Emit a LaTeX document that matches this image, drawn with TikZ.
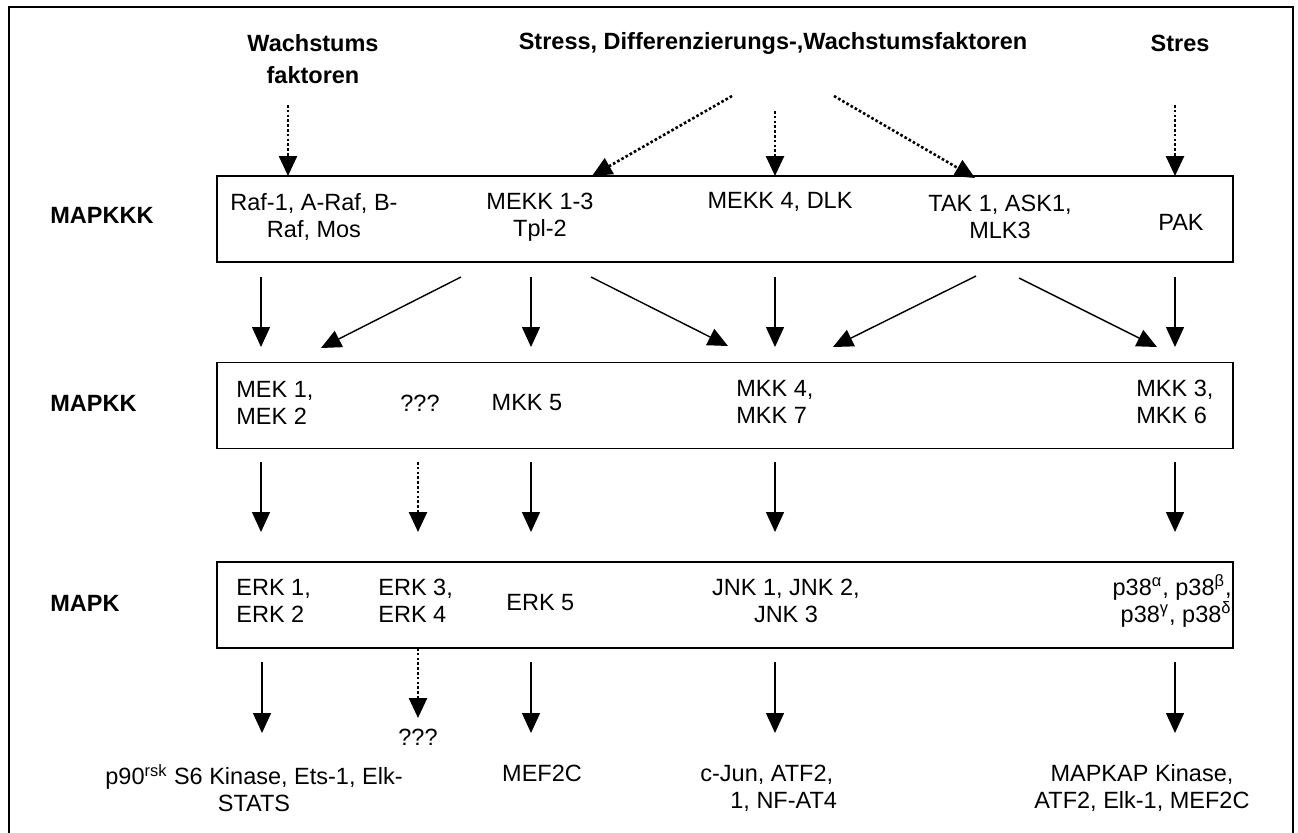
\documentclass[tikz,border=0pt]{standalone}
\usepackage{fontspec}
\setmainfont{Liberation Sans}
\usetikzlibrary{arrows.meta, positioning}

\begin{document}
\begin{tikzpicture}[x=0.5pt, y=-0.5pt, >={Triangle[width=9pt,length=10pt]}]
      % Styles
      \tikzset{
        stage/.style={draw, line width=0.75pt, minimum width=508pt, minimum height=43pt, inner sep=0pt},
        item/.style={font=\fontsize{11.75pt}{13.5pt}\selectfont, align=center, inner sep=0pt},
        level/.style={font=\fontsize{11.75pt}{13.5pt}\selectfont\bfseries, anchor=west, inner sep=0pt},
        source/.style={font=\fontsize{11.75pt}{16pt}\selectfont\bfseries, align=center, inner sep=0pt},
        act/.style={->, line width=0.7pt},
        maybe/.style={->, line width=1.3pt, dash pattern=on 1.3pt off 1.1pt},
      }
      \useasboundingbox (0,0) rectangle (1298,832);
      % Frame
      \draw[line width=1pt] (9,840) -- (9,7) -- (1293,7) -- (1293,840);
      % Stimuli
      \node (wachs) [source] at (313,59) {Wachstums\\faktoren};
      \node (stress) [source] at (773,43) {Stress, Differenzierungs-,Wachstumsfaktoren};
      \node (stres) [source] at (1180,43) {Stres};
      % Levels
      \node (lkkk) [level] at (50,215) {MAPKKK};
      \node (lkk) [level] at (50,403) {MAPKK};
      \node (lk) [level] at (50,603) {MAPK};
      % Boxes
      \node (kkk) [stage] at (725,219) {};
      \node (kk) [stage] at (725,405.5) {};
      \node (k) [stage] at (725,605) {};
      % MAPKKK
      \node (raf) [item] at (314,217) {Raf-1, A-Raf, B-\\Raf, Mos};
      \node (mekk) [item] at (540,217) {MEKK 1-3\\Tpl-2};
      \node (mekkfour) [item] at (780,202) {MEKK 4, DLK};
      \node (tak) [item] at (1000,217) {TAK 1, ASK1,\\MLK3};
      \node (pak) [item] at (1181,222) {PAK};
      % MAPKK
      \node (mek) [item, anchor=west, align=left] at (236,403) {MEK 1,\\MEK 2};
      \node (unkk) [item] at (420,403) {???};
      \node (mkkfive) [item] at (527,403) {MKK 5};
      \node (mkkfour) [item, anchor=west, align=left] at (736,402) {MKK 4,\\MKK 7};
      \node (mkkthree) [item, anchor=west, align=left] at (1136,402) {MKK 3,\\MKK 6};
      % MAPK
      \node (erk) [item, anchor=west, align=left] at (236,601) {ERK 1,\\ERK 2};
      \node (erkthree) [item, anchor=west, align=left] at (378,601) {ERK 3,\\ERK 4};
      \node (erkfive) [item, anchor=west] at (506,603) {ERK 5};
      \node (jnk) [item] at (786,601) {JNK 1, JNK 2,\\JNK 3};
      \node (pthree) [item, anchor=east, align=right] at (1232,601)
        {p38\textsuperscript{α}, p38\textsuperscript{β},\\p38\textsuperscript{γ}, p38\textsuperscript{δ}};
      % Targets
      \node (rsk) [item] at (254,788) {p90\textsuperscript{rsk} S6 Kinase, Ets-1, Elk-\\STATS};
      \node (unk) [item] at (418,737) {???};
      \node (mef) [item] at (542,773) {MEF2C};
      \node (jun) [item, anchor=west, align=left] at (700,788) {c-Jun, ATF2,\\\hspace*{15pt}1, NF-AT4};
      \node (mapkap) [item] at (1142,788) {MAPKAP Kinase,\\ATF2, Elk-1, MEF2C};
      % Stimulus arrows
      \coordinate (w0) at (288,105);  \coordinate (w1) at (288,176);
      \coordinate (sl0) at (732,96);  \coordinate (sl1) at (592,176);
      \coordinate (sm0) at (775,111); \coordinate (sm1) at (775,176);
      \coordinate (sr0) at (834,96);  \coordinate (sr1) at (975,178);
      \coordinate (p0) at (1175,105); \coordinate (p1) at (1175,176);
      \draw[maybe] (w0) -- (w1);
      \draw[maybe] (sl0) -- (sl1);
      \draw[maybe] (sm0) -- (sm1);
      \draw[maybe] (sr0) -- (sr1);
      \draw[maybe] (p0) -- (p1);
      % MAPKKK -> MAPKK
      \foreach \x [count=\i] in {261,531,775,1175} {
        \coordinate (a\i) at (\x,277);
        \coordinate (b\i) at (\x,347);
        \draw[act] (a\i) -- (b\i);
      }
      \coordinate (d0) at (461,277);  \coordinate (d1) at (321,348);
      \coordinate (e0) at (591,277);  \coordinate (e1) at (728,346);
      \coordinate (f0) at (976,276);  \coordinate (f1) at (833,347);
      \coordinate (g0) at (1019,278); \coordinate (g1) at (1157,347);
      \draw[act] (d0) -- (d1);
      \draw[act] (e0) -- (e1);
      \draw[act] (f0) -- (f1);
      \draw[act] (g0) -- (g1);
      % MAPKK -> MAPK
      \foreach \x [count=\i] in {261,531,775,1175} {
        \coordinate (c\i) at (\x,462);
        \coordinate (h\i) at (\x,532);
        \draw[act] (c\i) -- (h\i);
      }
      \coordinate (q0) at (418,462); \coordinate (q1) at (418,532);
      \draw[maybe] (q0) -- (q1);
      % MAPK -> targets
      \foreach \x [count=\i] in {262,531,775,1175} {
        \coordinate (m\i) at (\x,662);
        \coordinate (n\i) at (\x,733);
        \draw[act] (m\i) -- (n\i);
      }
      \coordinate (r0) at (418,648); \coordinate (r1) at (418,718);
      \draw[maybe] (r0) -- (r1);
    \end{tikzpicture}
\end{document}
